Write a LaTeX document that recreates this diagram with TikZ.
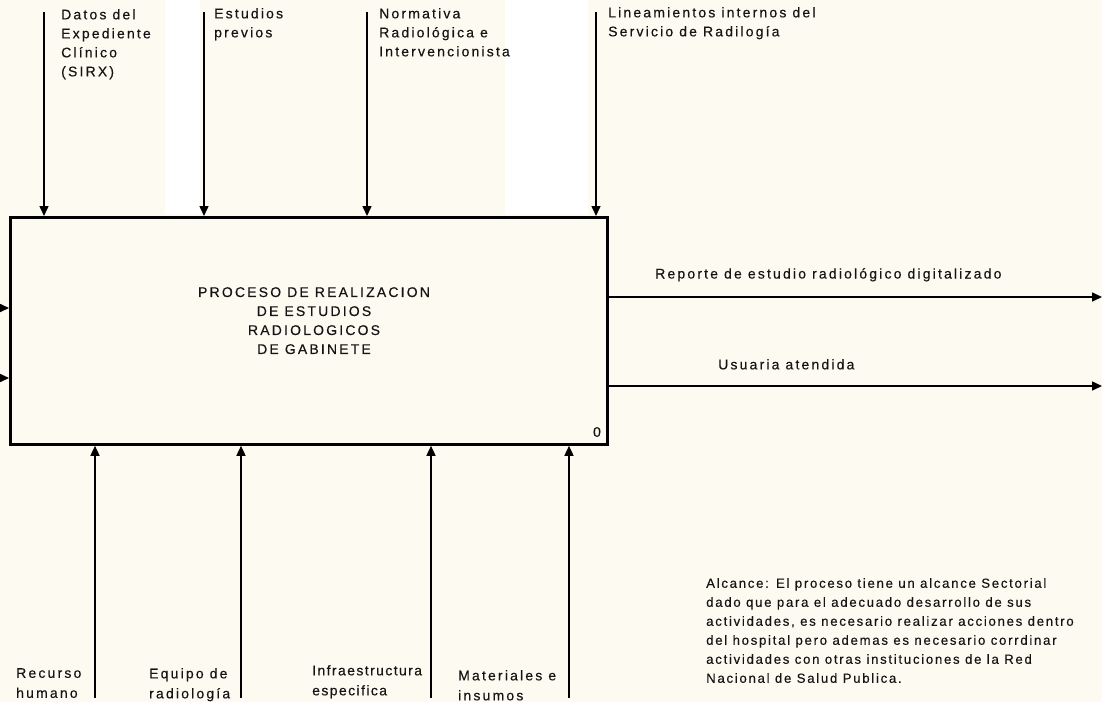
\documentclass[tikz,border=0pt]{standalone}
\usepackage{fontspec}
\setmainfont{Liberation Sans}[LetterSpace=15.5,FakeBold=0.3]
\newfontfamily\notefont{Liberation Sans}[LetterSpace=13,FakeBold=0.3]
\newfontfamily\tightfont{Liberation Sans}[LetterSpace=10,FakeBold=0.3]
\usetikzlibrary{arrows.meta}
\definecolor{bgcol}{RGB}{253,250,241}
\definecolor{ink}{RGB}{20,20,20}
\begin{document}
\begin{tikzpicture}[x=1pt,y=-1pt,
  lbl/.style={font=\fontsize{14}{19}\selectfont, text=ink, inner sep=0pt, anchor=north west, align=left},
  lblb/.style={lbl, font=\fontsize{14}{20}\selectfont},
  lblt/.style={lbl, font=\tightfont\fontsize{14}{20}\selectfont},
  notestyle/.style={lbl, font=\notefont\fontsize{13.2}{19}\selectfont},
  arr/.style={line width=1.5pt, draw=black, -{Triangle[width=9pt,length=10pt]}},
  procbox/.style={draw=black, line width=2.8pt, fill=bgcol, minimum width=597pt, minimum height=227pt, inner sep=0pt, anchor=north west}]
\useasboundingbox (0,0) rectangle (1102,702);
\fill[bgcol] (0,0) rectangle (1102,702);
\fill[white] (165,0) rectangle (200,214);
\fill[white] (505,0) rectangle (588,214);
% process box
\node (box) [procbox] at (9,216) {};
\node (title) [lbl, anchor=north, align=center] at (314,287) {PROCESO DE REALIZACION\\DE ESTUDIOS\\RADIOLOGICOS\\DE GABINETE};
\node (num) [lbl, anchor=center] at (597,432) {0};
% controls (top)
\coordinate (t1) at (44,12);
\coordinate (t2) at (204,12);
\coordinate (t3) at (367,12);
\coordinate (t4) at (596,12);
\draw[arr] (t1) -- (t1 |- box.north);
\draw[arr] (t2) -- (t2 |- box.north);
\draw[arr] (t3) -- (t3 |- box.north);
\draw[arr] (t4) -- (t4 |- box.north);
\node (c1) [lbl] at (61,9) {Datos del\\Expediente\\Clínico\\(SIRX)};
\node (c2) [lbl] at (214,8) {Estudios\\previos};
\node (c3) [lbl] at (379,8) {Normativa\\Radiológica e\\Intervencionista};
\node (c4) [lbl] at (608,7) {Lineamientos internos del\\Servicio de Radilogía};
% inputs (left)
\coordinate (l1) at (-20,308);
\coordinate (l2) at (-20,378);
\draw[arr] (l1) -- (l1 -| box.west);
\draw[arr] (l2) -- (l2 -| box.west);
% outputs (right)
\coordinate (o1) at (1102,297);
\coordinate (o2) at (1102,386);
\draw[arr] (o1 -| box.east) -- (o1);
\draw[arr] (o2 -| box.east) -- (o2);
\node (out1) [lbl] at (655,268) {Reporte de estudio radiológico digitalizado};
\node (out2) [lbl] at (718,359) {Usuaria atendida};
% mechanisms (bottom)
\coordinate (b1) at (95,698);
\coordinate (b2) at (241,698);
\coordinate (b3) at (431,698);
\coordinate (b4) at (569,698);
\draw[arr] (b1) -- (b1 |- box.south);
\draw[arr] (b2) -- (b2 |- box.south);
\draw[arr] (b3) -- (b3 |- box.south);
\draw[arr] (b4) -- (b4 |- box.south);
\node (m1) [lblb] at (16,668) {Recurso\\humano};
\node (m2) [lblb] at (149,668) {Equipo de\\radiología};
\node (m3) [lblt] at (312,665) {Infraestructura\\especifica};
\node (m4) [lblb] at (458,670) {Materiales e\\insumos};
% note
\node (note) [notestyle] at (706,578) {Alcance: El proceso tiene un alcance Sectorial\\dado que para el adecuado desarrollo de sus\\actividades, es necesario realizar acciones dentro\\del hospital pero ademas es necesario corrdinar\\actividades con otras instituciones de la Red\\Nacional de Salud Publica.};
\end{tikzpicture}
\end{document}
